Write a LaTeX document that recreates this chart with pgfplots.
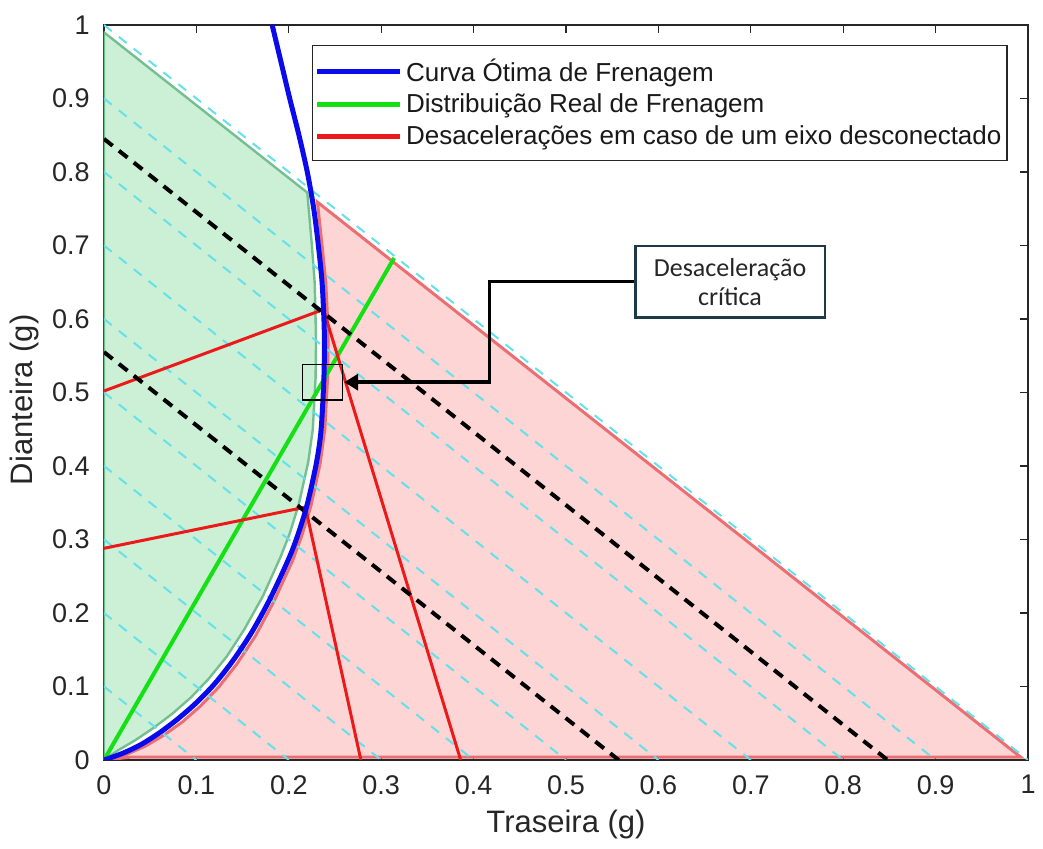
\documentclass[border=0pt]{standalone}
\usepackage{pgfplots}
\pgfplotsset{compat=1.18}
\usepackage{fontspec}
\setmainfont{Liberation Sans}
\newfontfamily\calloutfont{Carlito}
\usetikzlibrary{arrows.meta}
\definecolor{axgray}{RGB}{38,38,38}
\definecolor{cyanl}{RGB}{100,225,235}
\definecolor{bluec}{RGB}{10,10,235}
\definecolor{greenc}{RGB}{20,225,20}
\definecolor{redc}{RGB}{235,25,25}
\definecolor{greenfill}{RGB}{204,240,214}
\definecolor{greenedge}{RGB}{105,185,135}
\definecolor{redfill}{RGB}{253,213,213}
\definecolor{rededge}{RGB}{235,110,115}
\definecolor{annot}{RGB}{30,58,72}
\begin{document}
\begin{tikzpicture}
\path[use as bounding box] (-52pt,-44.5pt) rectangle (469.5pt,380pt);
\begin{axis}[
  at={(0pt,0pt)}, anchor=south west,
  width=462pt, height=367.5pt, scale only axis,
  xmin=0, xmax=1, ymin=0, ymax=1,
  xtick={0,0.1,0.2,0.3,0.4,0.5,0.6,0.7,0.8,0.9,1},
  ytick={0,0.1,0.2,0.3,0.4,0.5,0.6,0.7,0.8,0.9,1},
  xticklabels={0,0.1,0.2,0.3,0.4,0.5,0.6,0.7,0.8,0.9,1},
  yticklabels={0,0.1,0.2,0.3,0.4,0.5,0.6,0.7,0.8,0.9,1},
  /pgf/number format/assume math mode=true,
  tick align=inside,
  major tick length=4pt,
  every tick/.style={draw=axgray, line width=0.6pt},
  axis line style={draw=axgray, line width=0.75pt},
  ticklabel style={font=\fontsize{13.5}{15}\selectfont, text=axgray},
  xticklabel style={inner sep=0pt, anchor=north, yshift=-7.5pt},
  yticklabel style={inner sep=0pt, anchor=east, xshift=-7pt},
  xlabel={Traseira (g)}, ylabel={Dianteira (g)},
  label style={font=\fontsize{15.5}{17}\selectfont, text=axgray},
  xlabel style={at={(axis description cs:0.5,-0.098)}, anchor=base},
  ylabel style={at={(axis description cs:-0.0779,0.49)}, anchor=base},
  legend style={at={(0.978,0.973)}, anchor=north east, draw=axgray, line width=0.6pt,
    fill=white, font=\fontsize{13}{15}\selectfont, text=black!90,
    inner xsep=1pt, inner ysep=5.75pt, row sep=2.75pt,
    nodes={inner xsep=1.8pt, inner ysep=1pt}},
  legend cell align=left,
  legend image code/.code={\draw[#1] (0pt,0pt) -- (41.5pt,0pt);},
]
\addlegendimage{bluec, line width=2.6pt}
\addlegendentry{Curva Ótima de Frenagem}
\addlegendimage{greenc, line width=2.6pt}
\addlegendentry{Distribuição Real de Frenagem}
\addlegendimage{redc, line width=2.6pt}
\addlegendentry{Desacelerações em caso de um eixo desconectado}

% green region
\addplot[forget plot, fill=greenfill, draw=greenedge, line width=1.2pt, draw opacity=0.9] coordinates {
(0,0) (0.015,0.013) (0.034,0.027) (0.054,0.044) (0.074,0.063) (0.094,0.085)
(0.113,0.110) (0.133,0.141) (0.152,0.178) (0.172,0.223) (0.191,0.276)
(0.201,0.308) (0.211,0.349) (0.221,0.405) (0.226,0.450) (0.229,0.520)
(0.2295,0.570) (0.229,0.600) (0.228,0.650) (0.225,0.700) (0.220,0.772)
(0,0.990) } -- cycle;
% red region
\addplot[forget plot, fill=redfill, draw=rededge, line width=1.5pt] coordinates {
(0,0) (0.025,0.008) (0.045,0.019) (0.065,0.034) (0.085,0.052) (0.104,0.073)
(0.124,0.099) (0.144,0.131) (0.164,0.169) (0.184,0.216) (0.204,0.271)
(0.214,0.305) (0.224,0.346) (0.234,0.404) (0.239,0.450) (0.242,0.520)
(0.2425,0.570) (0.242,0.600) (0.240,0.650) (0.236,0.700) (0.231,0.759)
(0.992,0.004) (0.03,0.004) } -- cycle;

% cyan constant-deceleration lines
\pgfplotsset{cy/.style={forget plot, cyanl, line width=1pt, dash pattern=on 5pt off 4.5pt}}
\addplot[cy] coordinates {(0,0.1) (0.1,0)};
\addplot[cy] coordinates {(0,0.2) (0.2,0)};
\addplot[cy] coordinates {(0,0.3) (0.3,0)};
\addplot[cy] coordinates {(0,0.4) (0.4,0)};
\addplot[cy] coordinates {(0,0.5) (0.5,0)};
\addplot[cy] coordinates {(0,0.6) (0.6,0)};
\addplot[cy] coordinates {(0,0.7) (0.7,0)};
\addplot[cy] coordinates {(0,0.8) (0.8,0)};
\addplot[cy] coordinates {(0,0.9) (0.9,0)};
\addplot[cy] coordinates {(0,1.0) (1.0,0)};

% green real distribution
\addplot[forget plot, greenc, line width=2pt] coordinates {(0,0) (0.314,0.683)};

% red lines
\addplot[forget plot, redc, line width=1.5pt] coordinates {(0,0.502) (0.2375,0.613) (0.386,0)};
\addplot[forget plot, redc, line width=1.5pt] coordinates {(0,0.288) (0.218,0.344) (0.278,0)};

% black dashed
\addplot[forget plot, black, line width=2pt, dash pattern=on 5.5pt off 4pt] coordinates {(0,0.845) (0.848,0)};
\addplot[forget plot, black, line width=2pt, dash pattern=on 5.5pt off 4pt] coordinates {(0,0.555) (0.557,0)};

% blue optimal curve
\addplot[forget plot, bluec, line width=2.5pt, smooth, tension=0.5] coordinates {
(0,0) (0.020,0.009) (0.040,0.021) (0.060,0.037) (0.080,0.056) (0.100,0.078)
(0.120,0.104) (0.140,0.136) (0.160,0.174) (0.180,0.220) (0.200,0.274)
(0.210,0.307) (0.220,0.348) (0.230,0.405) (0.235,0.450) (0.238,0.520)
(0.2385,0.570) (0.238,0.600) (0.236,0.650) (0.232,0.700) (0.227,0.750)
(0.220,0.800) (0.211,0.850) (0.201,0.900) (0.1915,0.950) (0.182,1.000) };

% annotation
\draw[line width=0.8pt, black] (axis cs:0.215,0.490) rectangle (axis cs:0.258,0.538);
\draw[line width=1.8pt, black, line join=miter, -{Triangle[length=7pt,width=8pt]}]
  (axis cs:0.575,0.651) -- (axis cs:0.417,0.651) -- (axis cs:0.417,0.514) -- (axis cs:0.260,0.514);
\draw[line width=1.2pt, draw=annot, fill=white] (axis cs:0.575,0.602) rectangle (axis cs:0.780,0.699);
\node[font=\calloutfont\fontsize{13}{14.5}\selectfont, align=center, text=black!85]
  at (axis cs:0.6775,0.6505) {Desaceleração\\crítica};
\end{axis}
\end{tikzpicture}
\end{document}
